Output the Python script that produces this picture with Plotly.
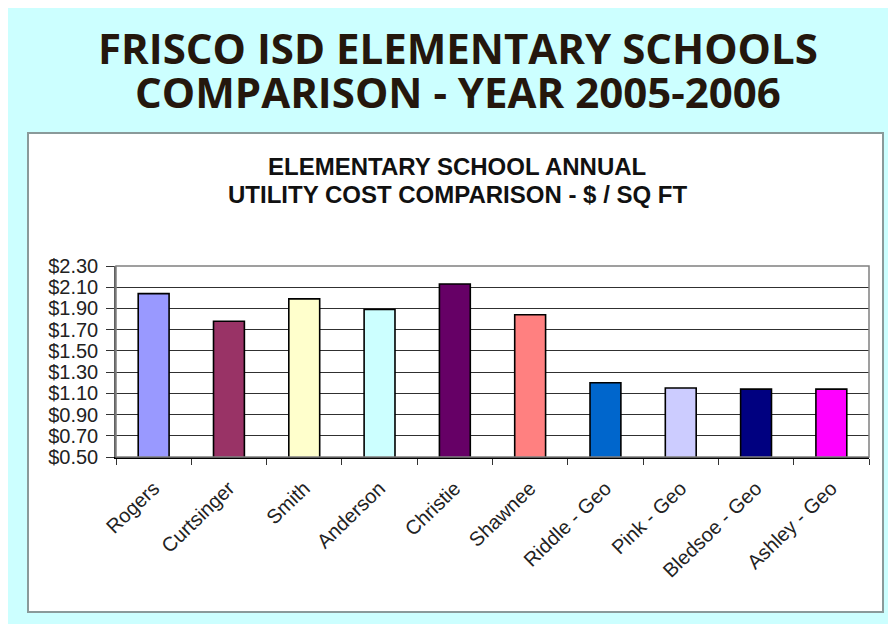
import plotly.graph_objects as go

schools = ["Rogers", "Curtsinger", "Smith", "Anderson", "Christie", "Shawnee",
           "Riddle - Geo", "Pink - Geo", "Bledsoe - Geo", "Ashley - Geo"]
cost_per_sqft = [2.04, 1.78, 1.99, 1.89, 2.13, 1.84, 1.20, 1.15, 1.14, 1.14]
bar_colors = ["#9999FF", "#993366", "#FFFFCC", "#CCFFFF", "#660066", "#FF8080",
              "#0066CC", "#CCCCFF", "#000080", "#FF00FF"]
y_min, y_max, y_step = 0.5, 2.3, 0.2

main_title = ["FRISCO ISD ELEMENTARY SCHOOLS", "COMPARISON - YEAR 2005-2006"]
chart_title = ["ELEMENTARY SCHOOL ANNUAL", "UTILITY COST COMPARISON - $ / SQ FT"]

W, H = 896, 624
OFF = 8  # page body margin: screenshot coords = figure coords + 8
# plot area in screenshot pixels
SL, SR, ST, SB = 116, 869, 266, 457
L, R, T, B = SL - OFF, SR - OFF, ST - OFF, SB - OFF


def px(x):
    return (x - SL) / (SR - SL)


def py(y):
    return (SB - y) / (SB - ST)


fig = go.Figure(go.Bar(
    x=schools, y=cost_per_sqft, width=0.41,
    marker=dict(color=bar_colors, line=dict(color="black", width=1.6)),
))

shapes = [
    # white chart box
    dict(type="rect", xref="paper", yref="paper", x0=px(28), x1=px(883), y0=py(133), y1=py(612),
         fillcolor="white", line=dict(color="#8A9A9A", width=2), layer="below"),
    # plot area border
    dict(type="rect", xref="paper", yref="paper", x0=0, x1=1, y0=0, y1=1,
         fillcolor="rgba(0,0,0,0)", line=dict(color="#808080", width=1.5), layer="above"),
]

annotations = []
for i, line in enumerate(main_title):
    annotations.append(dict(
        text=line, xref="paper", yref="paper", x=px(458), y=py(47 + 44 * i),
        xanchor="center", yanchor="middle", showarrow=False,
        font=dict(family="Open Sans", size=42, color="#24170D", weight="bold"),
    ))
for i, line in enumerate(chart_title):
    annotations.append(dict(
        text="<b>" + line + "</b>", xref="paper", yref="paper", x=px(457), y=py(166 + 28.5 * i),
        xanchor="center", yanchor="middle", showarrow=False,
        font=dict(family="Liberation Sans, Arial", size=24, color="#111111"),
    ))

fig.update_layout(
    width=W, height=H,
    margin=dict(l=L, r=W - R, t=T, b=H - B, pad=0),
    paper_bgcolor="#CCFFFF",
    plot_bgcolor="#C0C0C0",
    showlegend=False,
    shapes=shapes,
    annotations=annotations,
    font=dict(family="Liberation Sans, Arial", color="#222222"),
)
fig.update_xaxes(
    type="category", tickangle=-44, tickfont=dict(size=20, color="#222222"),
    ticklabelstandoff=10,
    ticks="outside", tickson="boundaries", ticklen=6, tickcolor="#333333",
    showline=True, linecolor="black", linewidth=1.5, showgrid=False,
)
fig.update_yaxes(
    range=[y_min, y_max], dtick=y_step, tick0=y_min, tickformat="$.2f",
    tickfont=dict(size=20, color="#222222"), ticklabelstandoff=4,
    ticks="outside", ticklen=8, tickcolor="#333333",
    showline=True, linecolor="#606060", linewidth=1.5,
    showgrid=True, gridcolor="#303030", gridwidth=1, zeroline=False,
)

fig.write_html("out.html")
